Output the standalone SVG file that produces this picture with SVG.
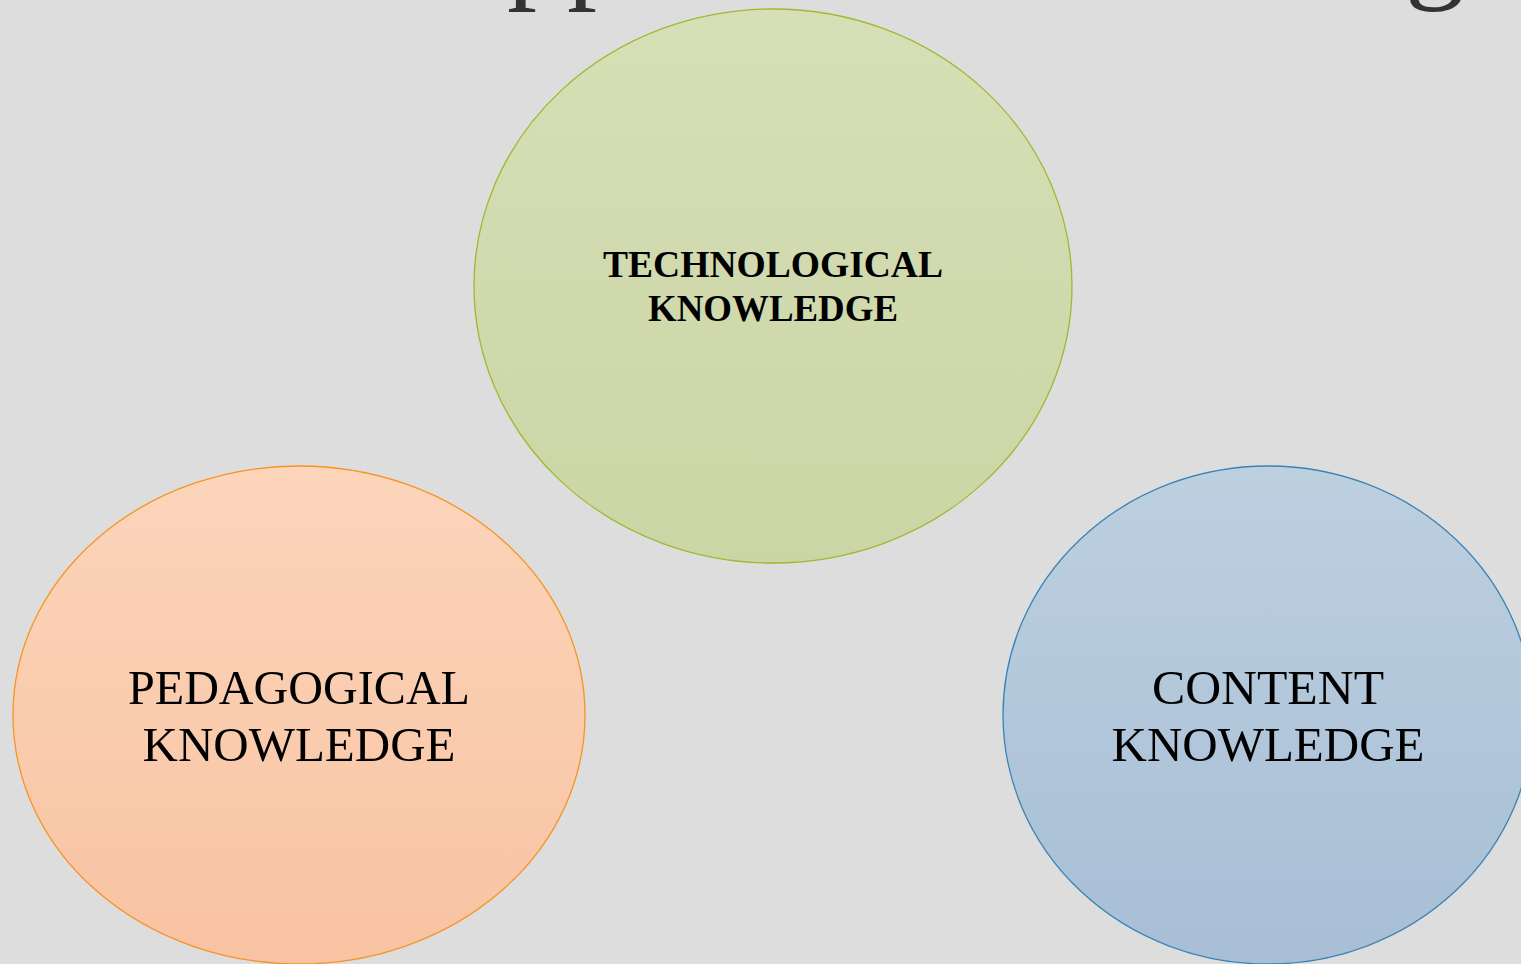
<svg xmlns="http://www.w3.org/2000/svg" width="1521" height="964" viewBox="0 0 1521 964">
<defs>
<linearGradient id="gGreen" x1="0" y1="0" x2="0" y2="1"><stop offset="0" stop-color="#d7dfb6"/><stop offset="1" stop-color="#cbd5a5"/></linearGradient>
<linearGradient id="gOrange" x1="0" y1="0" x2="0" y2="1"><stop offset="0" stop-color="#fcd5bb"/><stop offset="1" stop-color="#f8c3a2"/></linearGradient>
<linearGradient id="gBlue" x1="0" y1="0" x2="0" y2="1"><stop offset="0" stop-color="#bdd0e0"/><stop offset="1" stop-color="#a7bed5"/></linearGradient>
</defs>
<style>
.lbl{font-family:"Liberation Serif","Times New Roman",serif;fill:#000;text-anchor:middle}
.big{font-size:48px}
.bold{font-size:38px;font-weight:bold}
.title{font-family:"Liberation Serif","Times New Roman",serif;font-size:120px;fill:#333}
</style>
<rect width="1521" height="964" fill="#dddddd"/>
<text class="title" x="507" y="-14">pp</text>
<text class="title" x="1405" y="-14">g</text>
<g id="technological">
<ellipse cx="773" cy="286" rx="299" ry="277" fill="url(#gGreen)" stroke="#9bbb2d" stroke-width="1.3"/>
<text class="lbl bold" x="773" y="277" textLength="340" lengthAdjust="spacingAndGlyphs">TECHNOLOGICAL</text>
<text class="lbl bold" x="773" y="321" textLength="250" lengthAdjust="spacingAndGlyphs">KNOWLEDGE</text>
</g>
<g id="pedagogical">
<ellipse cx="299" cy="715" rx="286" ry="249" fill="url(#gOrange)" stroke="#f79321" stroke-width="1.3"/>
<text class="lbl big" x="299" y="704" textLength="342" lengthAdjust="spacingAndGlyphs">PEDAGOGICAL</text>
<text class="lbl big" x="299" y="761" textLength="313" lengthAdjust="spacingAndGlyphs">KNOWLEDGE</text>
</g>
<g id="content">
<ellipse cx="1268" cy="715" rx="265" ry="249" fill="url(#gBlue)" stroke="#3a84b5" stroke-width="1.3"/>
<text class="lbl big" x="1268" y="704" textLength="232" lengthAdjust="spacingAndGlyphs">CONTENT</text>
<text class="lbl big" x="1268" y="761" textLength="313" lengthAdjust="spacingAndGlyphs">KNOWLEDGE</text>
</g>
<g id="connectors"/>
</svg>
